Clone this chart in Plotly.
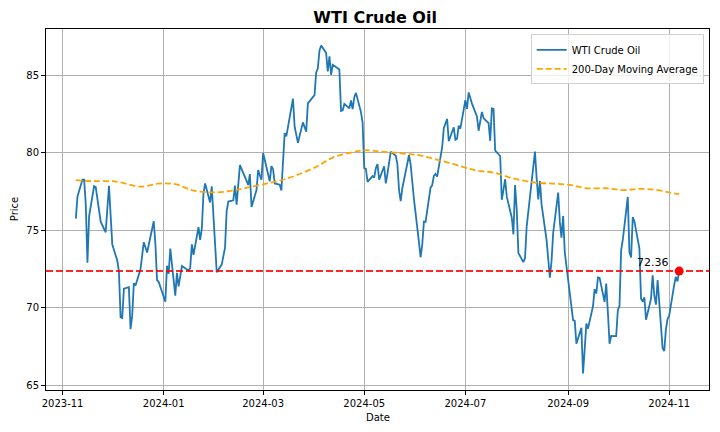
import plotly.graph_objects as go

# WTI daily closes
dates = [
    "2023-11-09", "2023-11-10", "2023-11-13", "2023-11-14", "2023-11-15", "2023-11-16", "2023-11-17",
    "2023-11-20", "2023-11-21", "2023-11-22", "2023-11-24", "2023-11-27", "2023-11-28", "2023-11-29",
    "2023-11-30", "2023-12-01", "2023-12-04", "2023-12-05", "2023-12-06", "2023-12-07", "2023-12-08",
    "2023-12-11", "2023-12-12", "2023-12-13", "2023-12-14", "2023-12-15", "2023-12-18", "2023-12-19",
    "2023-12-20", "2023-12-21", "2023-12-22", "2023-12-26", "2023-12-27", "2023-12-28", "2023-12-29",
    "2024-01-02", "2024-01-03", "2024-01-04", "2024-01-05", "2024-01-08", "2024-01-09", "2024-01-10",
    "2024-01-11", "2024-01-12", "2024-01-16", "2024-01-17", "2024-01-18", "2024-01-19", "2024-01-22",
    "2024-01-23", "2024-01-24", "2024-01-25", "2024-01-26", "2024-01-29", "2024-01-30", "2024-01-31",
    "2024-02-01", "2024-02-02", "2024-02-05", "2024-02-06", "2024-02-07", "2024-02-08", "2024-02-09",
    "2024-02-12", "2024-02-13", "2024-02-14", "2024-02-15", "2024-02-16", "2024-02-20", "2024-02-21",
    "2024-02-22", "2024-02-23", "2024-02-26", "2024-02-27", "2024-02-28", "2024-02-29", "2024-03-01",
    "2024-03-04", "2024-03-05", "2024-03-06", "2024-03-07", "2024-03-08", "2024-03-11", "2024-03-12",
    "2024-03-13", "2024-03-14", "2024-03-15", "2024-03-18", "2024-03-19", "2024-03-20", "2024-03-21",
    "2024-03-22", "2024-03-25", "2024-03-26", "2024-03-27", "2024-03-28", "2024-04-01", "2024-04-02",
    "2024-04-03", "2024-04-04", "2024-04-05", "2024-04-08", "2024-04-09", "2024-04-10", "2024-04-11",
    "2024-04-12", "2024-04-15", "2024-04-16", "2024-04-17", "2024-04-18", "2024-04-19", "2024-04-22",
    "2024-04-23", "2024-04-24", "2024-04-25", "2024-04-26", "2024-04-29", "2024-04-30", "2024-05-01",
    "2024-05-02", "2024-05-03", "2024-05-06", "2024-05-07", "2024-05-08", "2024-05-09", "2024-05-10",
    "2024-05-13", "2024-05-14", "2024-05-15", "2024-05-16", "2024-05-17", "2024-05-20", "2024-05-21",
    "2024-05-22", "2024-05-23", "2024-05-24", "2024-05-28", "2024-05-29", "2024-05-30", "2024-05-31",
    "2024-06-03", "2024-06-04", "2024-06-05", "2024-06-06", "2024-06-07", "2024-06-10", "2024-06-11",
    "2024-06-12", "2024-06-13", "2024-06-14", "2024-06-17", "2024-06-18", "2024-06-20", "2024-06-21",
    "2024-06-24", "2024-06-25", "2024-06-26", "2024-06-27", "2024-06-28", "2024-07-01", "2024-07-02",
    "2024-07-03", "2024-07-05", "2024-07-08", "2024-07-09", "2024-07-10", "2024-07-11", "2024-07-12",
    "2024-07-15", "2024-07-16", "2024-07-17", "2024-07-18", "2024-07-19", "2024-07-22", "2024-07-23",
    "2024-07-24", "2024-07-25", "2024-07-26", "2024-07-29", "2024-07-30", "2024-07-31", "2024-08-01",
    "2024-08-02", "2024-08-05", "2024-08-06", "2024-08-07", "2024-08-08", "2024-08-09", "2024-08-12",
    "2024-08-13", "2024-08-14", "2024-08-15", "2024-08-16", "2024-08-19", "2024-08-20", "2024-08-21",
    "2024-08-22", "2024-08-23", "2024-08-26", "2024-08-27", "2024-08-28", "2024-08-29", "2024-08-30",
    "2024-09-03", "2024-09-04", "2024-09-05", "2024-09-06", "2024-09-09", "2024-09-10", "2024-09-11",
    "2024-09-12", "2024-09-13", "2024-09-16", "2024-09-17", "2024-09-18", "2024-09-19", "2024-09-20",
    "2024-09-23", "2024-09-24", "2024-09-25", "2024-09-26", "2024-09-27", "2024-09-30", "2024-10-01",
    "2024-10-02", "2024-10-03", "2024-10-04", "2024-10-07", "2024-10-08", "2024-10-09", "2024-10-10",
    "2024-10-11", "2024-10-14", "2024-10-15", "2024-10-16", "2024-10-17", "2024-10-18", "2024-10-21",
    "2024-10-22", "2024-10-23", "2024-10-24", "2024-10-25", "2024-10-28", "2024-10-29", "2024-10-30",
    "2024-10-31", "2024-11-01", "2024-11-04", "2024-11-05", "2024-11-06", "2024-11-07",
]

prices = [
    75.74, 77.17, 78.26, 78.26, 76.66, 72.90, 75.89,
    77.83, 77.77, 77.10, 75.54, 74.86, 76.41, 77.86,
    75.96, 74.07, 73.04, 72.32, 69.38, 69.34, 71.23,
    71.32, 68.61, 69.47, 71.58, 71.43, 72.47, 73.44,
    74.22, 73.89, 73.56, 75.57, 74.11, 71.77, 71.65,
    70.38, 72.70, 72.19, 73.81, 70.77, 72.24, 71.37,
    72.02, 72.68, 72.40, 72.56, 74.08, 73.41, 75.19,
    74.37, 75.09, 77.36, 78.01, 76.78, 77.82, 75.85,
    73.82, 72.28, 72.78, 73.31, 73.86, 76.22, 76.84,
    76.92, 77.87, 76.64, 78.03, 79.19, 78.18, 77.91,
    78.61, 76.49, 77.58, 78.87, 78.54, 78.26, 79.97,
    78.74, 78.15, 79.13, 78.93, 78.01, 77.93, 77.56,
    79.72, 81.26, 81.04, 82.72, 83.47, 81.68, 81.07,
    80.63, 81.95, 81.62, 81.35, 83.17, 83.71, 85.15,
    85.43, 86.59, 86.91, 86.43, 85.23, 86.21, 85.02,
    85.66, 85.41, 85.36, 82.69, 82.73, 83.14, 82.85,
    83.36, 82.81, 83.57, 83.85, 82.63, 81.93, 79.00,
    78.95, 78.11, 78.48, 78.38, 78.99, 79.26, 78.26,
    79.12, 78.02, 78.63, 79.23, 80.06, 79.80, 79.26,
    77.57, 76.87, 77.72, 79.83, 79.23, 77.91, 76.99,
    74.22, 73.25, 74.07, 75.55, 75.53, 77.74, 77.90,
    78.50, 78.62, 78.45, 80.33, 81.57, 82.17, 80.73,
    81.63, 80.83, 80.90, 81.74, 81.54, 83.38, 82.81,
    83.88, 83.16, 82.33, 81.41, 82.10, 82.62, 82.21,
    81.91, 80.76, 82.85, 82.82, 80.13, 79.78, 76.96,
    77.59, 78.28, 77.16, 75.81, 74.73, 77.91, 76.31,
    73.52, 72.94, 73.20, 75.23, 76.19, 76.84, 80.06,
    78.35, 76.98, 78.16, 76.65, 74.37, 73.17, 71.93,
    73.01, 74.83, 77.42, 75.53, 74.52, 75.91, 73.55,
    70.34, 69.20, 69.15, 67.67, 68.71, 65.75, 67.31,
    68.97, 68.65, 70.09, 71.19, 70.91, 71.95, 71.92,
    70.37, 71.56, 69.69, 67.67, 68.18, 68.17, 69.83,
    70.10, 73.71, 74.38, 77.14, 73.57, 73.24, 75.85,
    75.56, 73.83, 70.58, 70.39, 70.67, 69.22, 70.56,
    72.09, 70.77, 70.19, 71.78, 67.38, 67.21, 68.61,
    69.26, 69.49, 71.47, 71.99, 71.69, 72.36,
]

# 200-day moving average, every two weeks
ma_dates = [
    "2023-11-09", "2023-11-20", "2023-11-30", "2023-12-05", "2023-12-18", "2023-12-29",
    "2024-01-08", "2024-01-19", "2024-02-02", "2024-02-13", "2024-02-21", "2024-03-05",
    "2024-03-14", "2024-03-25", "2024-04-03", "2024-04-12", "2024-04-23", "2024-05-01",
    "2024-05-10", "2024-05-23", "2024-06-03", "2024-06-13", "2024-06-24", "2024-07-03",
    "2024-07-09", "2024-07-18", "2024-07-30", "2024-08-12", "2024-08-23", "2024-09-03",
    "2024-09-12", "2024-09-24", "2024-10-04", "2024-10-14", "2024-10-24", "2024-11-01",
    "2024-11-07",
]
ma_values = [
    78.22, 78.16, 78.16, 78.10, 77.80, 78.00,
    77.96, 77.55, 77.43, 77.58, 77.75, 78.05,
    78.28, 78.70, 79.14, 79.68, 80.00, 80.15,
    80.08, 79.95, 79.83, 79.57, 79.25, 78.97,
    78.82, 78.71, 78.33, 78.07, 78.00, 77.90,
    77.70, 77.70, 77.58, 77.66, 77.60, 77.43,
    77.30,
]

last_date = dates[-1]
last_price = prices[-1]

fig = go.Figure()
fig.add_trace(go.Scatter(x=dates, y=prices, mode='lines', name='WTI Crude Oil',
                         line=dict(color='#1f77b4', width=1.8)))
fig.add_trace(go.Scatter(x=ma_dates, y=ma_values, mode='lines', name='200-Day Moving Average',
                         line=dict(color='orange', width=1.8, dash='6px,3px', shape='spline')))
fig.add_hline(y=last_price, line=dict(color='rgba(255,0,0,0.85)', width=2, dash='7px,3px'))
fig.add_trace(go.Scatter(x=[last_date], y=[last_price], mode='markers', showlegend=False,
                         marker=dict(color='red', size=9)))
fig.add_annotation(x=last_date, y=last_price, text=f'{last_price:.2f}', showarrow=False,
                   xanchor='right', yanchor='bottom', xshift=-8, yshift=0,
                   font=dict(size=11, color='black'))

# axis titles placed by hand, like matplotlib's labels
fig.add_annotation(text='Date', xref='paper', yref='paper', x=0.5, y=-0.055,
                   xanchor='center', yanchor='top', showarrow=False, font=dict(size=10))
fig.add_annotation(text='Price', xref='paper', yref='paper', x=-0.036, y=0.5,
                   xanchor='right', yanchor='middle', textangle=-90, showarrow=False,
                   font=dict(size=10))

axis_style = dict(showline=True, linecolor='black', linewidth=1, mirror=True,
                  showgrid=True, gridcolor='#b0b0b0', gridwidth=1,
                  ticks='outside', ticklen=4, tickcolor='black', zeroline=False,
                  automargin=False, tickfont=dict(size=10, color='black'))

fig.update_layout(
    width=720, height=432,
    margin=dict(l=46, r=11, t=29, b=42, autoexpand=False),
    paper_bgcolor='white', plot_bgcolor='white',
    font=dict(family='DejaVu Sans', color='black'),
    title=dict(text='<b>WTI Crude Oil</b>', x=0.521, xanchor='center', y=0.96, yanchor='middle',
               font=dict(size=16)),
    legend=dict(x=0.992, y=0.985, xanchor='right', yanchor='top',
                bgcolor='rgba(255,255,255,0.8)', bordercolor='#d0d0d0', borderwidth=1,
                font=dict(size=10), itemwidth=30, tracegroupgap=0),
    showlegend=True,
)
fig.update_xaxes(axis_style, range=['2023-10-22', '2024-11-25'], tickformat='%Y-%m',
                 dtick='M2', tick0='2023-11-01')
fig.update_yaxes(axis_style, range=[64.69, 87.97], dtick=5, tick0=65)

# drop the page's default body margin so the figure sits at the window's corner
fig.write_html("out.html", config={'displayModeBar': False},
               post_script="document.body.style.margin = '0';")
